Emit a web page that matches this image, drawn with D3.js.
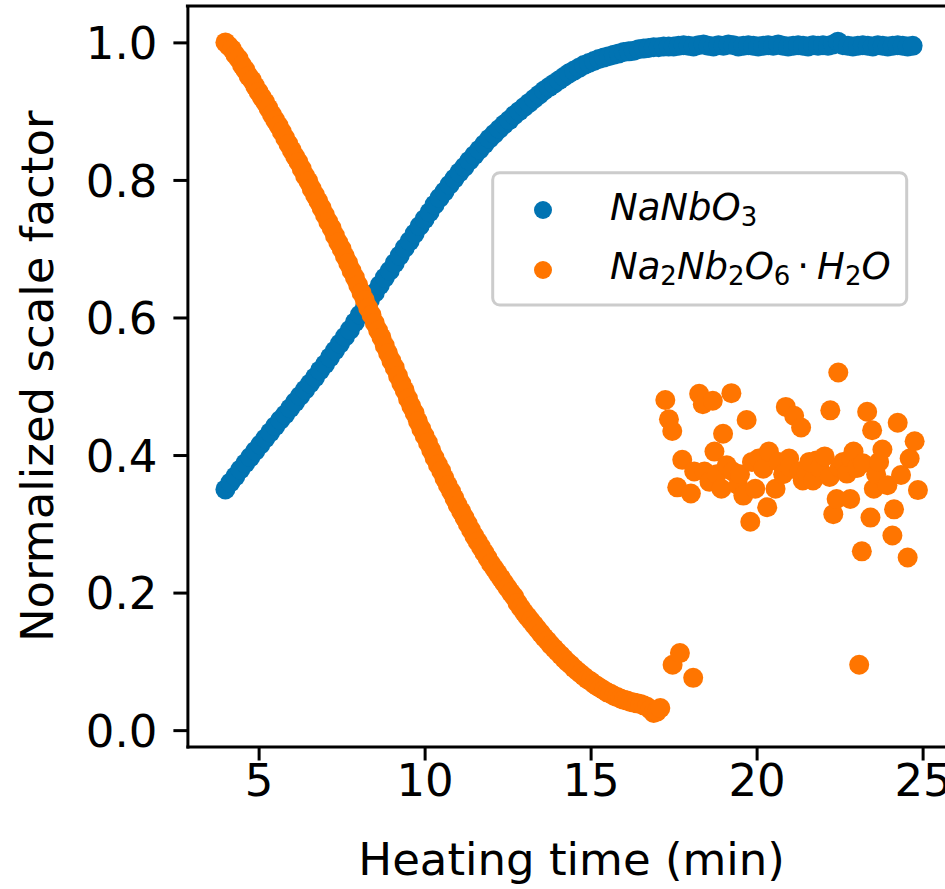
<!DOCTYPE html>
<html>
<head>
<meta charset="utf-8">
<script src="https://cdn.jsdelivr.net/npm/d3@7"></script>
<style>
  html, body { margin: 0; padding: 0; background: #ffffff; }
  svg { display: block; }
</style>
</head>
<body>
<script>
// ---------------- DATA ----------------
const xTicks = [5, 10, 15, 20, 25];
const yTicks = [0.0, 0.2, 0.4, 0.6, 0.8, 1.0];
const seriesNames = ["NaNbO3", "Na2Nb2O6·H2O"];

// NaNbO3 (blue)
const blueTime = [
  4.00,4.15,4.30,4.45,4.60,4.75,4.90,5.05,5.20,5.35,5.50,5.65,5.80,5.95,6.10,6.25,6.40,6.55,6.70,6.85,
  7.00,7.15,7.30,7.45,7.60,7.75,7.90,8.05,8.20,8.35,8.50,8.65,8.80,8.95,9.10,9.25,9.40,9.55,9.70,9.85,
  10.00,10.15,10.30,10.45,10.60,10.75,10.90,11.05,11.20,11.35,11.50,11.65,11.80,11.95,12.10,12.25,12.40,12.55,12.70,12.85,
  13.00,13.15,13.30,13.45,13.60,13.75,13.90,14.05,14.20,14.35,14.50,14.65,14.80,14.95,15.10,15.25,15.40,15.55,15.70,15.85,
  16.00,16.15,16.30,16.45,16.60,16.75,16.90,17.05,17.20,17.35,17.50,17.65,17.80,17.95,18.10,18.25,18.40,18.55,18.70,18.85,
  19.00,19.15,19.30,19.45,19.60,19.75,19.90,20.05,20.20,20.35,20.50,20.65,20.80,20.95,21.10,21.25,21.40,21.55,21.70,21.85,
  22.00,22.15,22.30,22.45,22.60,22.75,22.90,23.05,23.20,23.35,23.50,23.65,23.80,23.95,24.10,24.25,24.40,24.55,24.70
];
const blueScale = [
  0.350,0.360,0.369,0.379,0.388,0.397,0.406,0.415,0.424,0.433,0.442,0.451,0.459,0.468,0.477,0.486,0.495,0.504,0.513,0.523,
  0.532,0.542,0.552,0.562,0.572,0.582,0.593,0.604,0.614,0.625,0.636,0.647,0.658,0.668,0.679,0.690,0.701,0.711,0.722,0.733,
  0.743,0.753,0.764,0.774,0.783,0.793,0.802,0.811,0.819,0.828,0.836,0.844,0.852,0.860,0.867,0.874,0.881,0.887,0.894,0.900,
  0.906,0.912,0.918,0.924,0.930,0.935,0.940,0.945,0.950,0.955,0.959,0.963,0.967,0.970,0.973,0.976,0.978,0.980,0.982,0.984,
  0.986,0.987,0.988,0.990,0.991,0.992,0.993,0.993,0.994,0.994,0.994,0.995,0.996,0.995,0.994,0.996,0.997,0.995,0.994,0.996,
  0.995,0.997,0.996,0.994,0.995,0.996,0.995,0.994,0.995,0.996,0.995,0.997,0.995,0.994,0.995,0.996,0.995,0.994,0.996,0.995,
  0.996,0.995,0.997,1.001,0.996,0.995,0.994,0.995,0.996,0.995,0.994,0.996,0.995,0.994,0.995,0.996,0.995,0.994,0.995
];

// Na2Nb2O6·H2O (orange) – smooth decay part
const orangeTime = [
  4.0,4.1,4.2,4.3,4.4,4.5,4.6,4.7,4.8,4.9,
  5.0,5.1,5.2,5.3,5.4,5.5,5.6,5.7,5.8,5.9,
  6.0,6.1,6.2,6.3,6.4,6.5,6.6,6.7,6.8,6.9,
  7.0,7.1,7.2,7.3,7.4,7.5,7.6,7.7,7.8,7.9,
  8.0,8.1,8.2,8.3,8.4,8.5,8.6,8.7,8.8,8.9,
  9.0,9.1,9.2,9.3,9.4,9.5,9.6,9.7,9.8,9.9,
  10.0,10.1,10.2,10.3,10.4,10.5,10.6,10.7,10.8,10.9,
  11.0,11.1,11.2,11.3,11.4,11.5,11.6,11.7,11.8,11.9,
  12.0,12.1,12.2,12.3,12.4,12.5,12.6,12.7,12.8,12.9,
  13.0,13.1,13.2,13.3,13.4,13.5,13.6,13.7,13.8,13.9,
  14.0,14.1,14.2,14.3,14.4,14.5,14.6,14.7,14.8,14.9,
  15.0,15.1,15.2,15.3,15.4,15.5,15.6,15.7,15.8,15.9,
  16.0,16.1,16.2,16.3,16.4,16.5,16.6,16.7,16.8,16.9,
  17.0,17.1
];
const orangeScale = [
  1.000,0.995,0.990,0.982,0.976,0.967,0.960,0.951,0.945,0.936,
  0.928,0.920,0.913,0.904,0.895,0.887,0.879,0.870,0.861,0.852,
  0.843,0.834,0.826,0.816,0.806,0.798,0.787,0.778,0.769,0.759,
  0.749,0.739,0.730,0.719,0.709,0.700,0.689,0.679,0.668,0.658,
  0.647,0.636,0.625,0.614,0.604,0.592,0.581,0.571,0.559,0.548,
  0.537,0.527,0.515,0.504,0.494,0.482,0.471,0.461,0.449,0.438,
  0.428,0.418,0.407,0.396,0.386,0.377,0.366,0.356,0.347,0.337,
  0.327,0.318,0.309,0.300,0.291,0.282,0.274,0.266,0.258,0.250,
  0.242,0.235,0.228,0.221,0.214,0.207,0.200,0.194,0.185,0.178,
  0.171,0.165,0.159,0.153,0.147,0.141,0.135,0.130,0.124,0.119,
  0.114,0.109,0.104,0.099,0.095,0.090,0.086,0.082,0.078,0.074,
  0.071,0.067,0.064,0.061,0.058,0.055,0.053,0.050,0.048,0.046,
  0.044,0.043,0.041,0.040,0.039,0.038,0.036,0.034,0.030,0.025,
  0.027,0.032
];

// Na2Nb2O6·H2O (orange) – scattered part after the phase vanishes
const orangeScatterTime = [
  17.25,17.36,17.46,17.47,17.61,17.69,17.76,18.02,18.09,18.12,18.27,18.38,18.43,18.58,18.68,18.73,18.80,18.94,18.99,19.10,
  19.24,19.28,19.45,19.50,19.60,19.70,19.81,19.86,19.96,20.06,20.20,20.32,20.37,20.57,20.67,20.80,20.88,20.98,21.00,21.13,
  21.29,21.34,21.39,21.50,21.59,21.70,21.80,21.90,22.05,22.20,22.22,22.31,22.41,22.46,22.50,22.61,22.72,22.82,22.85,22.92,
  23.02,23.09,23.17,23.20,23.33,23.43,23.48,23.53,23.60,23.69,23.79,23.94,24.09,24.14,24.25,24.35,24.55,24.61,24.76,24.86
];
const orangeScatterScale = [
  0.480,0.452,0.435,0.095,0.353,0.112,0.393,0.344,0.076,0.376,0.489,0.474,0.376,0.361,0.479,0.405,0.372,0.351,0.431,0.385,
  0.490,0.376,0.356,0.372,0.341,0.451,0.303,0.390,0.351,0.395,0.380,0.324,0.405,0.351,0.390,0.372,0.470,0.395,0.383,0.457,
  0.376,0.440,0.363,0.375,0.390,0.363,0.392,0.381,0.398,0.368,0.465,0.314,0.336,0.520,0.382,0.390,0.373,0.336,0.395,0.405,
  0.381,0.095,0.260,0.388,0.463,0.309,0.436,0.351,0.372,0.390,0.408,0.356,0.283,0.321,0.447,0.371,0.251,0.395,0.420,0.349
];

// ---------------- CHART ----------------
const W = 945, H = 889;
const blueColor = "#0173b2";
const orangeColor = "#ff7500";
const fontFam = "'DejaVu Sans', sans-serif";

const svg = d3.select("body").append("svg")
  .attr("width", W).attr("height", H)
  .attr("viewBox", `0 0 ${W} ${H}`);

svg.append("rect").attr("width", W).attr("height", H).attr("fill", "#fff");

const x = d3.scaleLinear().domain([2.855, 26.0]).range([187.4, 955.8]);
const y = d3.scaleLinear().domain([-0.0238, 1.0529]).range([746.5, 6]);

const blueData = blueTime.map((t, i) => ({ t, v: blueScale[i] }));
const orangeData = orangeTime.map((t, i) => ({ t, v: orangeScale[i] }))
  .concat(orangeScatterTime.map((t, i) => ({ t, v: orangeScatterScale[i] })));

const R = 10;
svg.append("g").selectAll("circle").data(blueData).join("circle")
  .attr("cx", d => x(d.t)).attr("cy", d => y(d.v)).attr("r", R)
  .attr("fill", blueColor);

svg.append("g").selectAll("circle").data(orangeData).join("circle")
  .attr("cx", d => x(d.t)).attr("cy", d => y(d.v)).attr("r", R)
  .attr("fill", orangeColor);

// Axes
const xAxis = svg.append("g")
  .attr("transform", `translate(0,${y.range()[0]})`)
  .call(d3.axisBottom(x).tickValues(xTicks).tickFormat(d3.format("d"))
    .tickSize(14).tickPadding(4).tickSizeOuter(0));
const yAxis = svg.append("g")
  .attr("transform", `translate(${x.range()[0]},0)`)
  .call(d3.axisLeft(y).tickValues(yTicks).tickFormat(d3.format(".1f"))
    .tickSize(14).tickPadding(16).tickSizeOuter(0));

[xAxis, yAxis].forEach(g => {
  g.attr("font-family", fontFam).attr("font-size", 45);
  g.selectAll("text").attr("fill", "#000");
  g.select(".domain").attr("stroke", "#000").attr("stroke-width", 3).attr("stroke-linecap", "square");
  g.selectAll(".tick line").attr("stroke", "#000").attr("stroke-width", 3);
});
yAxis.selectAll(".tick text").attr("dy", "0.36em");

// top spine
svg.append("line")
  .attr("x1", x.range()[0]).attr("x2", x.range()[1])
  .attr("y1", y.range()[1]).attr("y2", y.range()[1])
  .attr("stroke", "#000").attr("stroke-width", 3).attr("stroke-linecap", "square");

// axis titles
svg.append("text")
  .attr("x", (x.range()[0] + x.range()[1]) / 2).attr("y", 875)
  .attr("text-anchor", "middle")
  .attr("font-family", fontFam).attr("font-size", 45).attr("fill", "#000")
  .text("Heating time (min)");

svg.append("text")
  .attr("transform", `translate(53,${(y.range()[0] + y.range()[1]) / 2}) rotate(-90)`)
  .attr("text-anchor", "middle")
  .attr("font-family", fontFam).attr("font-size", 45).attr("fill", "#000")
  .text("Normalized scale factor");

// Legend
const leg = svg.append("g");
leg.append("rect")
  .attr("x", 492.7).attr("y", 172.7).attr("width", 414).attr("height", 132.3)
  .attr("rx", 7).attr("ry", 7)
  .attr("fill", "#fff").attr("fill-opacity", 0.8)
  .attr("stroke", "#cccccc").attr("stroke-width", 3);

leg.append("circle").attr("cx", 543).attr("cy", 210).attr("r", 9).attr("fill", blueColor);
leg.append("circle").attr("cx", 543).attr("cy", 270).attr("r", 9).attr("fill", orangeColor);

function mathLabel(xp, yp, parts) {
  const t = leg.append("text")
    .attr("x", xp).attr("y", yp)
    .attr("font-family", fontFam).attr("font-size", 37).attr("fill", "#000");
  parts.forEach(p => {
    const s = t.append("tspan").text(p.s);
    if (p.sub) {
      s.attr("font-size", 26).attr("dy", 6).attr("font-style", "normal");
    } else {
      s.attr("font-style", p.upright ? "normal" : "italic");
      if (p.back) s.attr("dy", -6);
    }
    if (p.dx) s.attr("dx", p.dx);
  });
  return t;
}

mathLabel(610, 220, [
  { s: "NaNbO" }, { s: "3", sub: true }
]);
mathLabel(610, 279, [
  { s: "Na" }, { s: "2", sub: true },
  { s: "Nb", back: true }, { s: "2", sub: true },
  { s: "O", back: true }, { s: "6", sub: true },
  { s: "\u00B7", upright: true, back: true, dx: 7 },
  { s: "H", dx: 8 }, { s: "2", sub: true },
  { s: "O", back: true }
]);
</script>
</body>
</html>
